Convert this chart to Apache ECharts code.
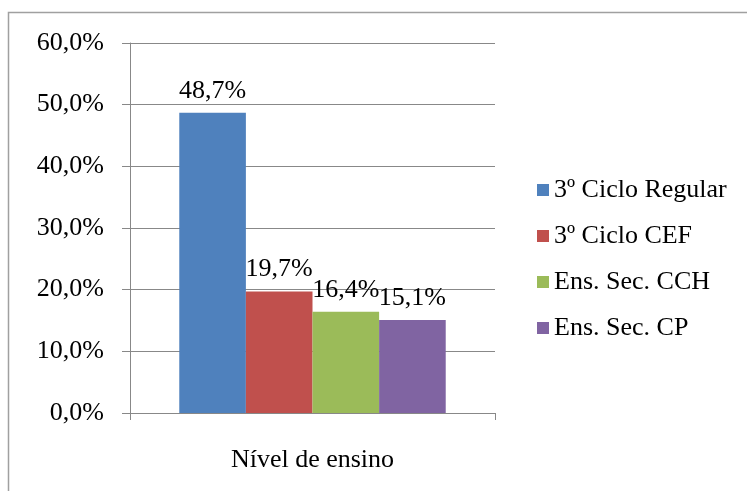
<!DOCTYPE html>
<html>
<head>
<meta charset="utf-8">
<script src="https://cdn.jsdelivr.net/npm/echarts@6/dist/echarts.min.js"></script>
<style>
  html, body { margin: 0; padding: 0; background: #ffffff; }
  #chart { width: 747px; height: 491px; }
</style>
</head>
<body>
<div id="chart"></div>
<script>
  const categories = ['Nível de ensino'];
  const seriesNames = ['3º Ciclo Regular', '3º Ciclo CEF', 'Ens. Sec. CCH', 'Ens. Sec. CP'];
  const seriesValues = [[48.7], [19.7], [16.4], [15.1]];
  const seriesColors = ['#4F81BD', '#C0504D', '#9BBB59', '#8064A2'];

  const font = 'Liberation Serif, Times New Roman, serif';
  const fmt = v => v.toFixed(1).replace('.', ',') + '%';

  const myChart = echarts.init(document.getElementById('chart'));
  const option = {
    animation: false,
    graphic: [{
      type: 'rect',
      shape: { x: 8.5, y: 12.5, width: 760, height: 500 },
      style: { fill: 'none', stroke: '#a0a0a0', lineWidth: 1.5 },
      silent: true
    }],
    legend: {
      orient: 'vertical',
      left: 537,
      top: 177,
      padding: 0,
      itemWidth: 12,
      itemHeight: 12,
      itemGap: 20,
      icon: 'rect',
      textStyle: { fontFamily: font, fontSize: 26, lineHeight: 26, color: '#000' },
      data: seriesNames
    },
    grid: { left: 130, right: 252, top: 43, bottom: 78 },
    xAxis: {
      type: 'category',
      data: categories,
      axisLine: { lineStyle: { color: '#888', width: 1 } },
      axisTick: { show: true, length: 7, lineStyle: { color: '#888' } },
      axisLabel: { fontFamily: font, fontSize: 26, color: '#000', margin: 34 }
    },
    yAxis: {
      type: 'value',
      min: 0,
      max: 60,
      interval: 10,
      axisLine: { show: true, lineStyle: { color: '#888', width: 1 } },
      axisTick: { show: true, length: 8, lineStyle: { color: '#888' } },
      splitLine: { lineStyle: { color: '#888', width: 1 } },
      axisLabel: { fontFamily: font, fontSize: 26, color: '#000', margin: 26, formatter: fmt }
    },
    series: seriesNames.map((name, i) => ({
      name: name,
      type: 'bar',
      data: seriesValues[i],
      barGap: '0%',
      barCategoryGap: '27%',
      itemStyle: { color: seriesColors[i] },
      label: {
        show: true,
        position: 'top',
        distance: 9,
        fontFamily: font,
        fontSize: 26,
        color: '#000',
        formatter: p => fmt(p.value)
      }
    }))
  };
  myChart.setOption(option);
</script>
</body>
</html>
